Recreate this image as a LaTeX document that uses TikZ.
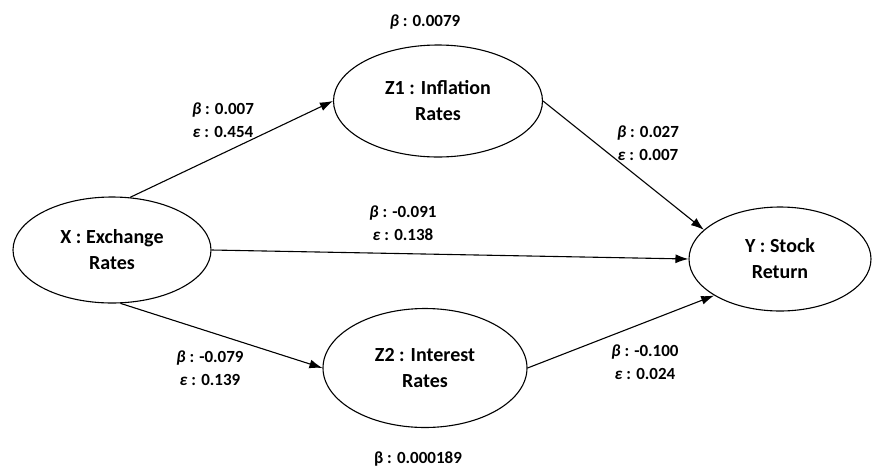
\documentclass[tikz,border=0pt]{standalone}
\usepackage{fontspec}
\setmainfont{Carlito}
\usetikzlibrary{shapes.geometric,arrows.meta}
\newcommand{\cb}{\textit{β}}
\newcommand{\ce}{\textit{ε}}
\begin{document}
\begin{tikzpicture}[x=1pt,y=-1pt,line width=1.1pt,
    var/.style={draw,ellipse,inner sep=0pt,align=center,
      font=\fontsize{20}{26}\selectfont\bfseries},
    coef/.style={align=center,inner sep=0pt,
      font=\fontsize{17}{23}\selectfont\bfseries}]
  \useasboundingbox (0,0) rectangle (872,469);
  \draw
    (112,250) node[var,minimum width=198pt,minimum height=106pt] (X){X : Exchange\\Rates}
    (438,101) node[var,minimum width=209pt,minimum height=112pt] (Z1){Z1 : Inflation\\Rates}
    (425,368) node[var,minimum width=204pt,minimum height=119pt] (Z2){Z2 : Interest\\Rates}
    (780,259) node[var,minimum width=182pt,minimum height=104pt] (Y){Y : Stock\\Return};
  \draw
    (425,22) node[coef] (bZ1){\cb{} : 0.0079}
    (418,459) node[coef] (bZ2){β : 0.000189}
    (223,120) node[coef] (cXZ1){\cb{} : 0.007\\\ce{} : 0.454}
    (648,143) node[coef] (cZ1Y){\cb{} : 0.027\\\ce{} : 0.007}
    (403,223) node[coef] (cXY){\cb{} : -0.091\\\ce{} : 0.138}
    (210,368) node[coef] (cXZ2){\cb{} : -0.079\\\ce{} : 0.139}
    (645,362) node[coef] (cZ2Y){\cb{} : -0.100\\\ce{} : 0.024};
  \begin{scope}[-{Latex[length=13pt,width=9pt]}]
    \draw (X.71) to (Z1.west);
    \draw (X.east) to (Y.west);
    \draw (X.-81) to (Z2.west);
    \draw (Z1.east) to (Y.159);
    \draw (Z2.east) to (Y.209);
  \end{scope}
\end{tikzpicture}
\end{document}
